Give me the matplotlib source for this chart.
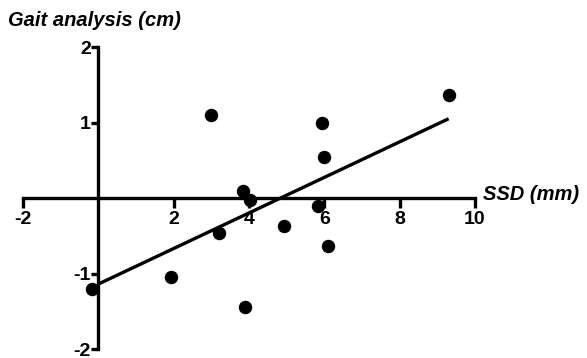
import matplotlib
matplotlib.use('Agg')
import matplotlib.pyplot as plt

plt.rcParams['font.family'] = ['Liberation Sans', 'DejaVu Sans']

# SSD (mm) vs gait analysis (cm)
ssd = [-0.16, 1.93, 3.0, 3.2, 3.84, 4.02, 3.9, 4.92, 5.82, 5.93, 6.0, 6.1, 9.3]
gait = [-1.2, -1.04, 1.1, -0.47, 0.09, -0.02, -1.45, -0.37, -0.1, 0.99, 0.54, -0.64, 1.36]

fit_x = [0, 9.3]
fit_y = [-1.14, 1.05]

xticks = [-2, 2, 4, 6, 8, 10]
yticks = [-2, -1, 1, 2]

fig = plt.figure(figsize=(5.87, 3.58), dpi=100)
ax = fig.add_axes([23 / 587, 1 - 349 / 358, (475 - 23) / 587, (349 - 47) / 358])

ax.scatter(ssd, gait, s=75, color='black', zorder=3, clip_on=False)
ax.plot(fit_x, fit_y, color='black', lw=2.4, zorder=3, solid_capstyle='butt')

ax.set_xlim(-2, 10)
ax.set_ylim(-2, 2)

ax.spines['left'].set_position(('data', 0))
ax.spines['bottom'].set_position(('data', 0))
ax.spines['right'].set_visible(False)
ax.spines['top'].set_visible(False)
for s in ['left', 'bottom']:
    ax.spines[s].set_linewidth(2.4)

ax.set_xticks(xticks)
ax.set_yticks(yticks)
ax.set_xticklabels([str(t) for t in xticks], fontweight='bold', fontsize=14)
ax.set_yticklabels([str(t) for t in yticks], fontweight='bold', fontsize=14)
ax.tick_params(axis='x', direction='out', length=7, width=2.4, pad=2)
ax.tick_params(axis='y', direction='out', length=5, width=2.4, pad=0.5)

fig.text(8 / 587, 1 - 20 / 358, 'Gait analysis (cm)', fontsize=14.5,
         fontweight='bold', fontstyle='italic', va='center', ha='left')
ax.text(10.2, 0.05, 'SSD (mm)', fontsize=14.5, fontweight='bold',
        fontstyle='italic', va='center', ha='left')

fig.savefig('out.png', dpi=100)
